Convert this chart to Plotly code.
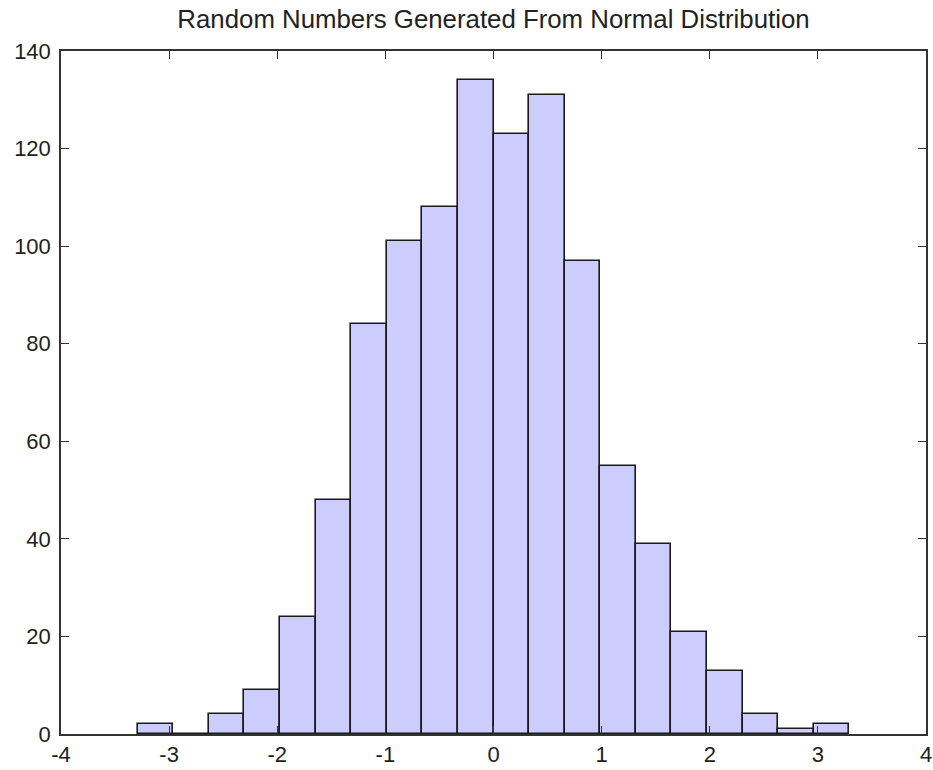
import plotly.graph_objects as go

# Histogram of 1000 normal samples, 20 equal-width bins
bin_start = -3.29
bin_width = 0.329
counts = [2, 0, 4, 9, 24, 48, 84, 101, 108, 134,
          123, 131, 97, 55, 39, 21, 13, 4, 1, 2]
x_ticks = [-4, -3, -2, -1, 0, 1, 2, 3, 4]
y_ticks = [0, 20, 40, 60, 80, 100, 120, 140]

centers = [bin_start + bin_width * (i + 0.5) for i in range(len(counts))]

font_family = "Liberation Sans, Arial, sans-serif"

fig = go.Figure(
    go.Bar(
        x=centers,
        y=counts,
        width=bin_width,
        marker=dict(color="#CCCCFF", line=dict(color="#1a1a1a", width=1.6)),
    )
)

axis_common = dict(
    showline=True,
    linecolor="#333333",
    linewidth=1.5,
    mirror="ticks",
    ticks="inside",
    ticklen=8,
    tickwidth=1.2,
    tickcolor="#333333",
    showgrid=False,
    zeroline=False,
    ticklabeloverflow="allow",
    tickfont=dict(family=font_family, size=22, color="#222222"),
)

# plain hyphen-minus labels
fig.update_xaxes(range=[-4, 4], tickvals=x_ticks,
                 ticktext=[str(v) for v in x_ticks], ticklabelstandoff=0,
                 **axis_common)
fig.update_yaxes(range=[0, 140], tickvals=y_ticks,
                 ticktext=[str(v) for v in y_ticks], ticklabelstandoff=4,
                 **axis_common)

fig.update_layout(
    width=933,
    height=770,
    margin=dict(l=61, r=7, t=51, b=36, autoexpand=False),
    paper_bgcolor="white",
    plot_bgcolor="white",
    bargap=0,
    showlegend=False,
    title=dict(
        text="Random Numbers Generated From Normal Distribution",
        xref="paper",
        x=0.5,
        xanchor="center",
        y=0.975,
        yanchor="middle",
        font=dict(family=font_family, size=25.8, color="#222222"),
    ),
)

fig.write_html("out.html")
